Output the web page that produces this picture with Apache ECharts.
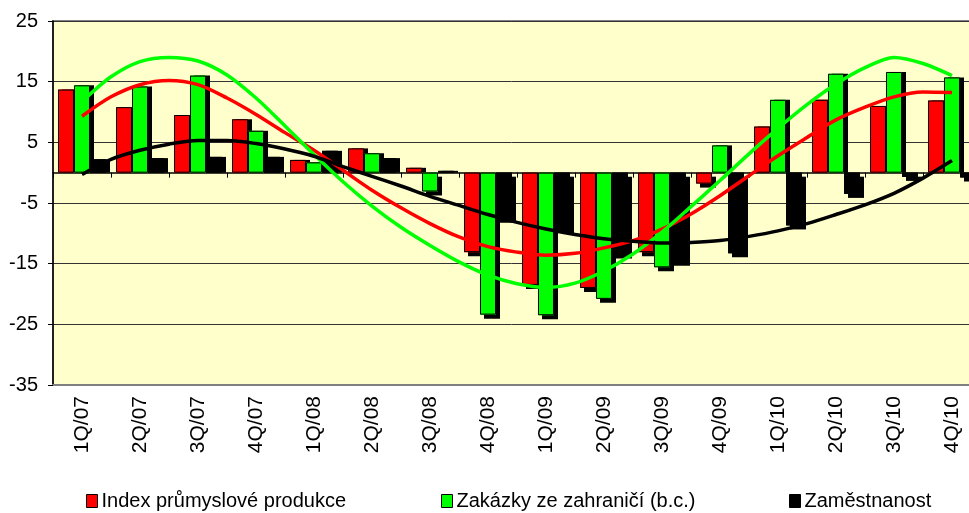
<!DOCTYPE html>
<html>
<head>
<meta charset="utf-8">
<script src="https://cdn.jsdelivr.net/npm/echarts@6/dist/echarts.min.js"></script>
<style>
  html, body { margin: 0; padding: 0; background: #ffffff; }
  #chart { width: 969px; height: 513px; }
</style>
</head>
<body>
<div id="chart"></div>
<script>
const categories = ["1Q/07", "2Q/07", "3Q/07", "4Q/07", "1Q/08", "2Q/08", "3Q/08", "4Q/08",
  "1Q/09", "2Q/09", "3Q/09", "4Q/09", "1Q/10", "2Q/10", "3Q/10", "4Q/10"];

const industry = [13.7, 10.8, 9.5, 8.8, 2.1, 4.0, 0.8, -13.1, -18.5, -19.0, -13.1, -1.8, 7.6, 12.0, 11.0, 11.9];
const foreignOrders = [14.4, 14.2, 16.0, 6.9, 1.7, 3.2, -3.1, -23.4, -23.5, -20.8, -15.6, 4.5, 12.0, 16.3, 16.6, 15.7];
const employment = [2.2, 2.4, 2.6, 2.6, 3.6, 2.4, 0.3, -7.6, -9.3, -13.5, -14.7, -13.3, -8.7, -3.5, -0.7, -0.8];

// trend curves every half quarter (0 = 1Q/07, 15 = 4Q/10)
const trendPos = [0, 0.5, 1, 1.5, 2, 2.5, 3, 3.5, 4, 4.5, 5, 5.5, 6, 6.5, 7, 7.5,
  8, 8.5, 9, 9.5, 10, 10.5, 11, 11.5, 12, 12.5, 13, 13.5, 14, 14.5, 15];
const industryTrend = [9.3, 12.5, 14.5, 15.2, 14.5, 12.3, 9.6, 6.6, 3.7, 0.4, -2.9, -5.8, -8.4, -10.6, -12.2, -13.1,
  -13.6, -13.3, -12.4, -11.2, -9.3, -6.8, -3.8, -0.5, 2.8, 5.8, 8.7, 10.8, 12.5, 13.3, 13.2];
const ordersTrend = [11.7, 15.8, 18.3, 19.0, 18.4, 16.1, 12.3, 7.7, 3.0, -1.5, -5.5, -9.0, -12.0, -14.7, -16.9, -18.3,
  -18.9, -18.2, -16.2, -13.4, -9.8, -5.6, -1.3, 3.1, 7.3, 11.2, 14.6, 17.3, 19.0, 18.0, 16.0];
const employmentTrend = [-0.3, 2.2, 3.7, 4.7, 5.3, 5.3, 4.8, 3.9, 2.7, 1.0, -0.6, -2.2, -3.9, -5.4, -6.9, -8.2,
  -9.3, -10.2, -10.9, -11.3, -11.6, -11.5, -11.2, -10.5, -9.6, -8.4, -6.9, -5.3, -3.4, -0.9, 2.0];

const yTicks = [-35, -25, -15, -5, 5, 15, 25];

const NAMES = ["Index průmyslové produkce", "Zakázky ze zahraničí (b.c.)", "Zaměstnanost"];
const COLORS = ["#FF0000", "#00FF00", "#000000"];
const FONT = "Arial, 'Liberation Sans', sans-serif";

const chart = echarts.init(document.getElementById("chart"), null, { renderer: "canvas" });

// filled bar with the Excel-like drop shadow, no outline (outline is drawn by a twin series)
function barFill(name, values, color) {
  return {
    name,
    type: "bar",
    data: values.map((v) => ({
      value: v,
      itemStyle: { shadowOffsetY: v >= 0 ? 0 : 4 },
    })),
    barWidth: 16,
    barGap: "0%",
    itemStyle: {
      color,
      borderWidth: 0,
      shadowColor: "#000",
      shadowBlur: 0,
      shadowOffsetX: 4,
      shadowOffsetY: 4,
    },
    emphasis: { disabled: true },
  };
}

function barOutline(values) {
  return {
    name: "outline",
    type: "bar",
    xAxisIndex: 1,
    data: values,
    barWidth: 16,
    barGap: "0%",
    itemStyle: { color: "rgba(0,0,0,0)", borderColor: "#000", borderWidth: 1 },
    emphasis: { disabled: true },
  };
}

function trendLine(values, color) {
  return {
    name: "trend",
    type: "line",
    xAxisIndex: 2,
    data: trendPos.map((p, i) => [p, values[i]]),
    smooth: 0.3,
    symbol: "none",
    lineStyle: { color, width: 3.5 },
    z: 5,
    emphasis: { disabled: true },
  };
}

function legendAt(left, name) {
  return {
    left,
    top: 491,
    data: [name],
    icon: "rect",
    itemWidth: 11,
    itemHeight: 13,
    padding: 0,
    selectedMode: false,
    itemStyle: {
      borderColor: "#000",
      borderWidth: 1,
      shadowColor: "rgba(0,0,0,0)",
      shadowOffsetX: 0,
      shadowOffsetY: 0,
    },
    textStyle: { color: "#000", fontSize: 20, fontFamily: FONT, padding: [0, 0, 0, -1] },
  };
}

chart.setOption({
  backgroundColor: "#ffffff",
  animation: false,
  grid: {
    left: 53,
    top: 21,
    width: 928,
    height: 364,
    outerBoundsMode: "none",
    containLabel: false,
    show: true,
    backgroundColor: "#FFFFCC",
    borderColor: "#808080",
    borderWidth: 2,
  },
  legend: [
    legendAt(86, NAMES[0]),
    legendAt(441, NAMES[1]),
    legendAt(789, NAMES[2]),
  ],
  xAxis: [
    {
      type: "category",
      data: categories,
      position: "bottom",
      axisLine: { onZero: false, lineStyle: { color: "#808080", width: 2 } },
      axisTick: { show: false },
      axisLabel: {
        rotate: 90,
        margin: 11,
        color: "#000",
        fontSize: 21,
        fontFamily: FONT,
      },
      splitLine: { show: false },
    },
    {
      type: "category",
      data: categories,
      position: "top",
      axisLine: { onZero: true, lineStyle: { color: "#000", width: 1.5 } },
      axisTick: { show: true, inside: true, length: 5, lineStyle: { color: "#000" } },
      axisLabel: { show: false },
      splitLine: { show: false },
    },
    {
      type: "value",
      min: -0.5,
      max: 15.5,
      show: false,
      axisLine: { onZero: false },
      splitLine: { show: false },
    },
  ],
  yAxis: {
    type: "value",
    min: yTicks[0],
    max: yTicks[yTicks.length - 1],
    interval: 10,
    axisLine: { show: true, onZero: false, lineStyle: { color: "#000", width: 1.5 } },
    axisTick: { show: true, length: 5, lineStyle: { color: "#000" } },
    axisLabel: { color: "#000", fontSize: 20, fontFamily: FONT, margin: 15 },
    splitLine: { lineStyle: { color: "#333", width: 1 } },
  },
  series: [
    barFill(NAMES[0], industry, COLORS[0]),
    barFill(NAMES[1], foreignOrders, COLORS[1]),
    barFill(NAMES[2], employment, COLORS[2]),
    barOutline(industry),
    barOutline(foreignOrders),
    barOutline(employment),
    trendLine(industryTrend, COLORS[0]),
    trendLine(ordersTrend, COLORS[1]),
    trendLine(employmentTrend, COLORS[2]),
  ],
});
</script>
</body>
</html>
